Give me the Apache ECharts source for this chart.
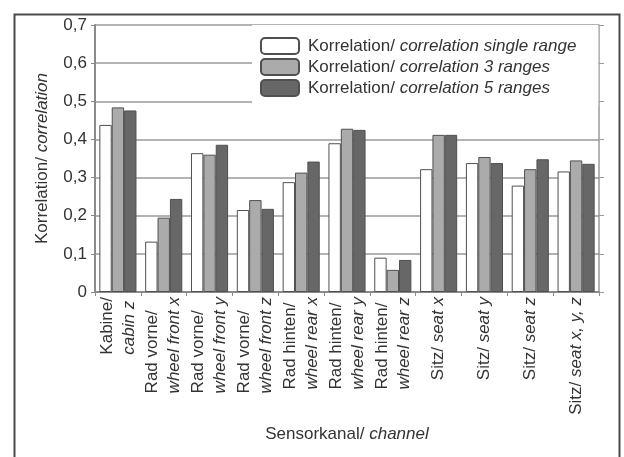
<!DOCTYPE html>
<html>
<head>
<meta charset="utf-8">
<script src="https://cdn.jsdelivr.net/npm/echarts@6/dist/echarts.min.js"></script>
<style>
html,body{margin:0;padding:0;background:#fff;}
#chart{width:624px;height:457px;}
</style>
</head>
<body>
<div id="chart"></div>
<script>
// Category labels (German / English parts)
const catDe = ['Kabine/', 'Rad vorne/', 'Rad vorne/', 'Rad vorne/', 'Rad hinten/', 'Rad hinten/', 'Rad hinten/', 'Sitz/', 'Sitz/', 'Sitz/', 'Sitz/'];
const catEn = ['cabin z', 'wheel front x', 'wheel front y', 'wheel front z', 'wheel rear x', 'wheel rear y', 'wheel rear z', 'seat x', 'seat y', 'seat z', 'seat x, y, z'];
const catTwoLine = [true, true, true, true, true, true, true, false, false, false, false];

// Series values
const singleRange = [0.438, 0.132, 0.364, 0.215, 0.288, 0.390, 0.090, 0.322, 0.338, 0.279, 0.316];
const threeRanges = [0.484, 0.195, 0.360, 0.241, 0.313, 0.428, 0.058, 0.412, 0.354, 0.322, 0.345];
const fiveRanges  = [0.476, 0.244, 0.386, 0.218, 0.342, 0.425, 0.084, 0.412, 0.338, 0.348, 0.336];

// Legend names
const legDe = 'Korrelation/ ';
const legEn = ['correlation single range', 'correlation 3 ranges', 'correlation 5 ranges'];
const seriesNames = ['s1', 's2', 's3'];

// Y tick labels
const yTickLabels = ['0', '0,1', '0,2', '0,3', '0,4', '0,5', '0,6', '0,7'];

const categories = catDe.map((d, i) => d + ' ' + catEn[i]);
const FONT = '"Liberation Sans", Arial, sans-serif';
const TXT = '#333';

const chart = echarts.init(document.getElementById('chart'), null, {renderer: 'canvas'});

const barStyle = (c) => ({color: c, borderColor: '#505050', borderWidth: 1});

const option = {
  animation: false,
  backgroundColor: '#fff',
  textStyle: {fontFamily: FONT},
  graphic: [{
    type: 'rect', left: 12, top: 12, z: 100, silent: true,
    shape: {width: 605, height: 460},
    style: {fill: 'none', stroke: '#4a4a4a', lineWidth: 2}
  }],
  legend: {
    left: 252, top: 25, orient: 'vertical',
    backgroundColor: '#fff',
    padding: [12, 22, 9, 8],
    itemWidth: 38, itemHeight: 16, itemGap: 3,
    data: seriesNames,
    formatter: (n) => '{a|' + legDe + '}{b|' + legEn[seriesNames.indexOf(n)] + '}',
    textStyle: {
      color: TXT, fontSize: 17, lineHeight: 17, fontFamily: FONT,
      rich: {
        a: {fontSize: 17, color: TXT, fontFamily: FONT, padding: [0, 0, 0, 4]},
        b: {fontSize: 17, color: TXT, fontStyle: 'italic', fontFamily: FONT}
      }
    }
  },
  grid: {left: 95, right: 25, top: 25, bottom: 165},
  xAxis: {
    type: 'category',
    data: categories,
    boundaryGap: true,
    axisLine: {lineStyle: {color: '#8a8a8a', width: 2}},
    axisTick: {show: true, length: 4, alignWithLabel: false, lineStyle: {color: '#8a8a8a'}},
    axisLabel: {
      interval: 0, rotate: 90, margin: 5, color: TXT,
      fontSize: 17, fontFamily: FONT, lineHeight: 22,
      formatter: (v, i) => catTwoLine[i]
        ? '{a|' + catDe[i] + '}\n{b|' + catEn[i] + '}'
        : '{a|' + catDe[i] + ' }{b|' + catEn[i] + '}',
      rich: {
        a: {fontSize: 17, color: TXT, align: 'left', fontFamily: FONT, lineHeight: 22},
        b: {fontSize: 17, color: TXT, align: 'left', fontStyle: 'italic', fontFamily: FONT, lineHeight: 22}
      }
    },
    name: '{a|Sensorkanal/ }{b|channel}',
    nameLocation: 'middle',
    nameGap: 134,
    nameTextStyle: {
      color: TXT, fontSize: 17, fontFamily: FONT,
      rich: {
        a: {fontSize: 17, color: TXT, fontFamily: FONT},
        b: {fontSize: 17, color: TXT, fontStyle: 'italic', fontFamily: FONT}
      }
    }
  },
  yAxis: [{
    type: 'value', min: 0, max: 0.7, interval: 0.1,
    axisLine: {show: true, lineStyle: {color: '#8a8a8a', width: 2}},
    axisTick: {show: true, length: 4, lineStyle: {color: '#8a8a8a'}},
    splitLine: {show: true, lineStyle: {color: '#9a9a9a', width: 1.5}},
    axisLabel: {
      color: TXT, fontSize: 17, fontFamily: FONT, margin: 8,
      formatter: (v) => yTickLabels[Math.round(v * 10)]
    },
    name: '{a|Korrelation/ }{b|correlation}',
    nameLocation: 'middle',
    nameGap: 44,
    nameRotate: 90,
    nameTextStyle: {
      color: TXT, fontSize: 17, fontFamily: FONT,
      rich: {
        a: {fontSize: 17, color: TXT, fontFamily: FONT},
        b: {fontSize: 17, color: TXT, fontStyle: 'italic', fontFamily: FONT}
      }
    }
  }, {
    type: 'value', min: 0, max: 0.7, interval: 0.1, position: 'right',
    axisLine: {show: true, lineStyle: {color: '#9a9a9a', width: 1.5}},
    axisTick: {show: true, length: 5, lineStyle: {color: '#9a9a9a'}},
    splitLine: {show: false},
    axisLabel: {show: false}
  }],
  series: [
    {name: seriesNames[0], type: 'bar', data: singleRange, barGap: '0%', barCategoryGap: '19%', itemStyle: barStyle('#ffffff')},
    {name: seriesNames[1], type: 'bar', data: threeRanges, barGap: '0%', barCategoryGap: '19%', itemStyle: barStyle('#ababab')},
    {name: seriesNames[2], type: 'bar', data: fiveRanges, barGap: '0%', barCategoryGap: '19%', itemStyle: barStyle('#676767')}
  ]
};

chart.setOption(option);
</script>
</body>
</html>
